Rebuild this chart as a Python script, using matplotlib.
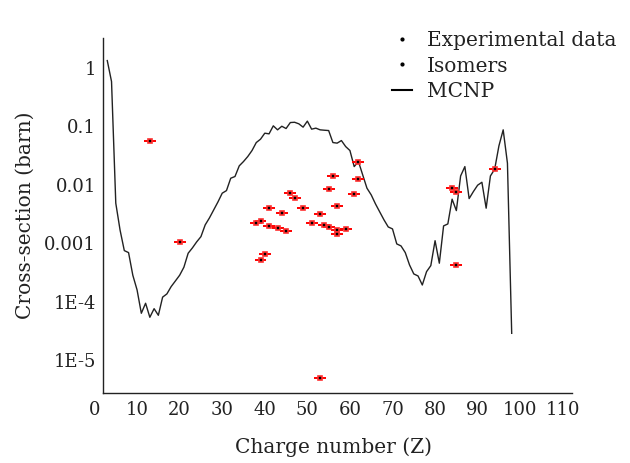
import matplotlib
matplotlib.use('Agg')
import matplotlib.pyplot as plt
from matplotlib.lines import Line2D
from matplotlib.ticker import FixedLocator, FixedFormatter, NullLocator

plt.rcParams['font.family'] = ['DejaVu Serif']

# MCNP calculation, one value per Z
mcnp_z = list(range(3, 99))
mcnp_xs = [1.33, 0.582, 0.00482, 0.00168, 7.45e-4, 6.88e-4, 2.82e-4, 1.58e-4, 6.3e-5, 9.35e-5,
           5.38e-5, 7.55e-5, 5.82e-5, 1.19e-4, 1.35e-4, 1.80e-4, 2.25e-4, 2.82e-4, 3.87e-4, 6.71e-4,
           8.28e-4, 1.05e-3, 1.29e-3, 2.05e-3, 2.70e-3, 3.70e-3, 5.07e-3, 7.15e-3, 7.92e-3, 0.0129,
           0.0138, 0.0210, 0.0249, 0.0303, 0.0384, 0.0526, 0.0601, 0.0761, 0.0741, 0.1016,
           0.0868, 0.100, 0.0914, 0.1157, 0.117, 0.110, 0.0965, 0.1223, 0.0892, 0.0928,
           0.0868, 0.0855, 0.0844, 0.0526, 0.0514, 0.0569, 0.0449, 0.0384, 0.0204, 0.0249,
           0.0147, 0.00871, 0.00669, 0.00469, 0.00342, 0.00250, 0.00189, 0.00175, 9.69e-4, 8.95e-4,
           6.88e-4, 4.23e-4, 2.97e-4, 2.74e-4, 1.92e-4, 3.25e-4, 4.12e-4, 1.10e-3, 4.53e-4, 1.97e-3,
           2.13e-3, 5.65e-3, 3.60e-3, 0.0141, 0.0204, 0.00578, 0.00762, 0.00980, 0.0110, 0.00396,
           0.0141, 0.0184, 0.0462, 0.0868, 0.0233, 2.86e-5]

# measured cross-sections (ground states)
exp_z = [13, 20, 38, 39, 40, 41, 43, 44, 45, 46, 47, 49, 51, 53, 54, 55, 56, 57, 59, 61, 62, 84, 85, 94]
exp_xs = [0.0569, 0.00106, 0.00222, 0.00237, 6.46e-4, 0.00396, 0.00184, 0.00333, 0.00164, 0.00724,
          0.00601, 0.00405, 0.00217, 0.00320, 0.00203, 0.00848, 0.0141, 0.00428, 0.00173, 0.00704,
          0.0241, 0.00892, 0.00753, 0.0187]

# isomeric states
iso_z = [39, 41, 53, 55, 57, 57, 62, 85]
iso_xs = [5.21e-4, 0.00199, 4.86e-6, 0.00187, 0.00166, 0.00144, 0.0124, 4.18e-4]

ytick_vals = [1, 0.1, 0.01, 0.001, 1e-4, 1e-5]
ytick_labels = ['1', '0.1', '0.01', '0.001', '1E-4', '1E-5']
xtick_vals = list(range(0, 111, 10))

fig = plt.figure(figsize=(6.3, 4.63), dpi=100)
ax = fig.add_axes([0.15, 0.1512, 0.7575, 0.7667])

ax.plot(mcnp_z, mcnp_xs, color='#222222', lw=1.0, zorder=2)

for zz, ss in [(exp_z, exp_xs), (iso_z, iso_xs)]:
    ax.errorbar(zz, ss, xerr=1.4, fmt='s', ms=3, mfc='black', mec='#ff3030', mew=1.2,
                ecolor='red', elinewidth=1.4, capsize=0, zorder=3)

ax.set_yscale('log')
ax.set_xlim(0, 112.1)
ax.set_ylim(10 ** -5.565, 10 ** 0.51)

ax.yaxis.set_major_locator(FixedLocator(ytick_vals))
ax.yaxis.set_major_formatter(FixedFormatter(ytick_labels))
ax.yaxis.set_minor_locator(NullLocator())
ax.set_xticks(xtick_vals)
ax.tick_params(length=0, labelsize=13, colors='#222222')
ax.tick_params(axis='y', pad=5)
ax.tick_params(axis='x', pad=6)

for s in ['top', 'right']:
    ax.spines[s].set_visible(False)
ax.spines['left'].set_position(('data', 2))
ax.spines['bottom'].set_bounds(2, 112.1)
for s in ['left', 'bottom']:
    ax.spines[s].set_color('#222222')
    ax.spines[s].set_linewidth(1.0)

ax.set_xlabel('Charge number (Z)', fontsize=14.5, color='#222222', labelpad=13)
ax.set_ylabel('Cross-section (barn)', fontsize=14.5, color='#222222', labelpad=7)

handles = [Line2D([], [], ls='none', marker='.', ms=4, color='black'),
           Line2D([], [], ls='none', marker='.', ms=4, color='black'),
           Line2D([], [], color='black', lw=1.5)]
ax.legend(handles, ['Experimental data', 'Isomers', 'MCNP'], loc='upper left',
          bbox_to_anchor=(0.616, 0.942), bbox_transform=fig.transFigure, frameon=False,
          fontsize=14.5, handlelength=1.0, handletextpad=0.75, labelspacing=0.33,
          labelcolor='#222222', borderaxespad=0, borderpad=0.2)

fig.savefig('out.png', dpi=100)
